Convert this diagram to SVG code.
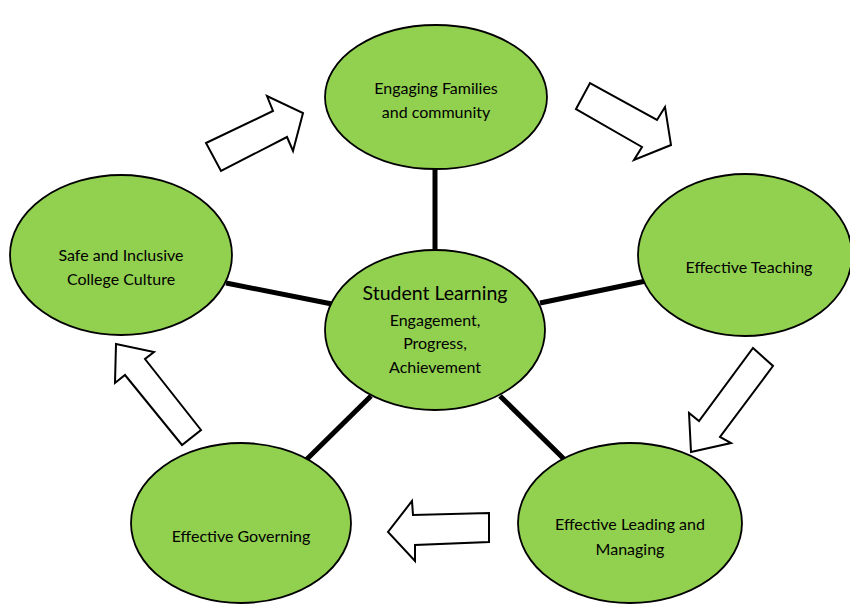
<svg xmlns="http://www.w3.org/2000/svg" width="850" height="606" viewBox="0 0 850 606">
<style>
.node ellipse{fill:#92D050;stroke:#000;stroke-width:1.8}
.conn line{stroke:#000;stroke-width:5}
.arr polygon{fill:#fff;stroke:#000;stroke-width:2;stroke-linejoin:miter}
text{font-family:Lato,"Open Sans","Liberation Sans",sans-serif;font-size:16px;fill:#000;text-anchor:middle}
.big{font-size:19.5px}
</style>
<rect width="850" height="606" fill="#fff"/>
<g id="connectors" class="conn">
<line x1="435" y1="165" x2="435" y2="252"/>
<line x1="226" y1="283" x2="332" y2="304"/>
<line x1="540" y1="303" x2="646" y2="281"/>
<line x1="305" y1="461" x2="371" y2="396"/>
<line x1="566" y1="461" x2="500" y2="396"/>
</g>
<g id="arrows" class="arr">
<polygon points="206,143 273,111 267,96 303,113 293,151 287,137 221,171"/>
<polygon points="576,109 590,83 657,120 665,107 671,145 634,160 642,147"/>
<polygon points="753,348 773,366 720,437 731,443 691,452 689,413 699,421"/>
<polygon points="412,501 413,515 489,513 489,542 415,545 415,561 388,532"/>
<polygon points="116,344 154,352 145,359 201,430 182,445 125,375 115,383"/>
</g>
<g id="families" class="node">
<ellipse cx="436" cy="97" rx="111" ry="72"/>
<text x="436" y="94">Engaging Families</text>
<text x="436" y="118">and community</text>
</g>
<g id="safe" class="node">
<ellipse cx="121" cy="255" rx="111" ry="80"/>
<text x="121" y="261">Safe and Inclusive</text>
<text x="121" y="285">College Culture</text>
</g>
<g id="teaching" class="node">
<ellipse cx="745" cy="255" rx="107" ry="81"/>
<text x="749" y="273">Effective Teaching</text>
</g>
<g id="student" class="node">
<ellipse cx="435" cy="330" rx="110" ry="80"/>
<text class="big" x="435" y="300">Student Learning</text>
<text x="435" y="326">Engagement,</text>
<text x="435" y="349">Progress,</text>
<text x="435" y="373">Achievement</text>
</g>
<g id="governing" class="node">
<ellipse cx="241" cy="523" rx="110" ry="80"/>
<text x="241" y="542">Effective Governing</text>
</g>
<g id="leading" class="node">
<ellipse cx="630" cy="523" rx="112" ry="80"/>
<text x="630" y="530">Effective Leading and</text>
<text x="630" y="555">Managing</text>
</g>
</svg>
